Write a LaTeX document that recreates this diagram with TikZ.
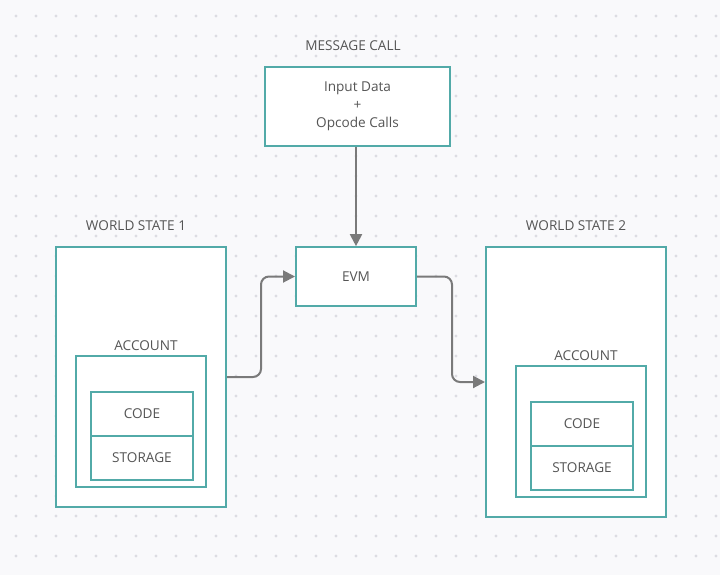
\documentclass[tikz,border=0pt]{standalone}
\usepackage{fontspec}
\setmainfont{Open Sans}
\usepackage{tikz}
\usetikzlibrary{arrows.meta}

\definecolor{teal}{HTML}{52AAA8}
\definecolor{ink}{HTML}{555555}
\definecolor{wire}{HTML}{7A7A7A}
\definecolor{paper}{HTML}{F9F9FB}
\definecolor{dot}{HTML}{DCDCE2}

\tikzset{
  box/.style={draw=teal, line width=1.5pt, fill=white, inner sep=0pt},
  lbl/.style={text=ink, font=\fontsize{10.2}{13.5}\selectfont},
  flow/.style={draw=wire, line width=1.5pt, rounded corners=6pt,
    -{Triangle[length=9pt,width=9pt]}}
}

\begin{document}
\begin{tikzpicture}[x=0.75pt,y=-0.75pt]
  % Background and dot grid
  \fill[paper] (0,0) rectangle (720,575);
  \useasboundingbox (0,0) rectangle (720,575);
  \foreach \i in {16,36,...,716} {
    \foreach \j in {16,36,...,575} {
      \fill[dot] (\i,\j) circle (1.2pt);
    }
  }

  % Message call
  \node[lbl] (msgtitle) at (353,46) {MESSAGE CALL};
  \node[box, minimum width=139pt, minimum height=59pt] (msg) at (357.5,106.5) {};
  \node[lbl, align=center] (msgtext) at (msg.center) {Input Data\\+\\Opcode Calls};

  % EVM
  \node[box, lbl, minimum width=90pt, minimum height=44pt] (evm) at (356,276.5) {EVM};

  % World state 1
  \node[lbl] (ws1title) at (136,226) {WORLD STATE 1};
  \node[box, minimum width=127.5pt, minimum height=195pt] (ws1) at (141,377) {};
  \node[lbl] (acc1title) at (146,346) {ACCOUNT};
  \node[box, minimum width=97.5pt, minimum height=98pt] (acc1) at (141,421.5) {};
  \node[box, lbl, minimum width=76.5pt, minimum height=33pt] (code1) at (142,414) {CODE};
  \node[box, lbl, minimum width=76.5pt, minimum height=33pt] (store1) at (142,458) {STORAGE};

  % World state 2
  \node[lbl] (ws2title) at (576,226) {WORLD STATE 2};
  \node[box, minimum width=135pt, minimum height=202.5pt] (ws2) at (576,382) {};
  \node[lbl] (acc2title) at (586,356) {ACCOUNT};
  \node[box, minimum width=97.5pt, minimum height=98pt] (acc2) at (581,431.5) {};
  \node[box, lbl, minimum width=76.5pt, minimum height=33pt] (code2) at (582,424) {CODE};
  \node[box, lbl, minimum width=76.5pt, minimum height=33pt] (store2) at (582,468) {STORAGE};

  % Connectors
  \draw[flow] (msg.south -| evm.north) -- (evm.north);
  \draw[flow] (ws1.east) -- ++(34,0) |- (evm.west);
  \draw[flow] (evm.east) -- ++(35,0) |- (ws2.west);
\end{tikzpicture}
\end{document}
